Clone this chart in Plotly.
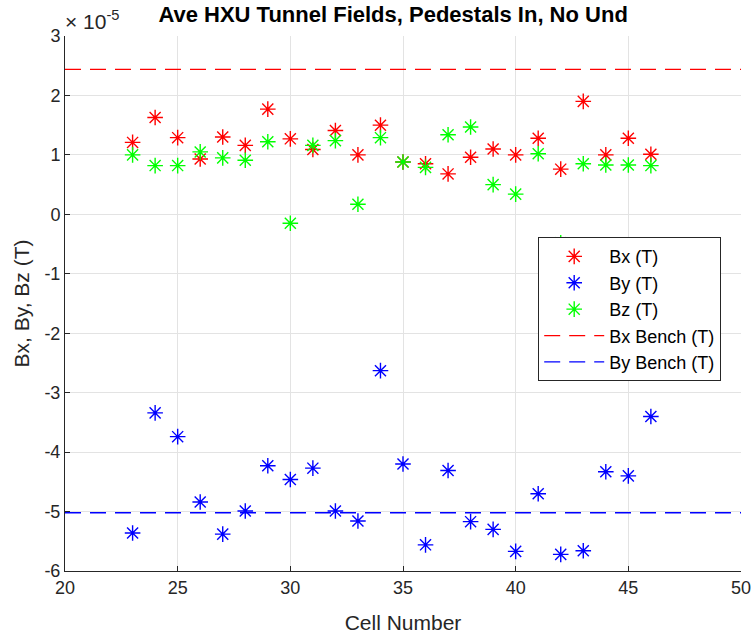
import plotly.graph_objects as go

cells = list(range(23, 47))
bx = [1.21, 1.63, 1.29, 0.93, 1.30, 1.16, 1.77, 1.27, 1.09, 1.41, 1.00, 1.50,
      0.88, 0.85, 0.68, 0.96, 1.10, 1.00, 1.28, 0.76, 1.90, 1.00, 1.28, 1.01]
by = [-5.36, -3.34, -3.74, -4.84, -5.38, -4.99, -4.23, -4.46, -4.27, -4.99, -5.16, -2.63,
      -4.20, -5.56, -4.31, -5.17, -5.30, -5.67, -4.70, -5.72, -5.66, -4.33, -4.40, -3.40]
bz = [1.00, 0.82, 0.82, 1.05, 0.95, 0.91, 1.22, -0.15, 1.16, 1.24, 0.17, 1.29,
      0.88, 0.79, 1.34, 1.47, 0.50, 0.34, 1.02, -0.48, 0.85, 0.83, 0.83, 0.82]
bench_x_range = [20, 50]
bx_bench = 2.44
by_bench = -5.02
x_ticks = [20, 25, 30, 35, 40, 45, 50]
y_ticks = [3, 2, 1, 0, -1, -2, -3, -4, -5, -6]
y_tick_text = ["3", "2", "1", "0", "-1", "-2", "-3", "-4", "-5", "-6"]

FONT = "Liberation Sans"
AX = "#262626"

fig = go.Figure()
for name, vals, col in [("Bx (T)", bx, "#ff0000"), ("By (T)", by, "#0000ff"), ("Bz (T)", bz, "#00ff00")]:
    fig.add_trace(go.Scatter(
        x=cells, y=vals, mode="markers", name=name,
        marker=dict(symbol="asterisk-open", size=13, color=col,
                    line=dict(color=col, width=1.4)),
    ))
for name, val, col in [("Bx Bench (T)", bx_bench, "#ff0000"), ("By Bench (T)", by_bench, "#0000ff")]:
    fig.add_trace(go.Scatter(
        x=bench_x_range, y=[val] * len(bench_x_range), mode="lines", name=name,
        line=dict(color=col, width=1.3, dash="16px,9px"),
    ))

fig.update_layout(
    width=756, height=640,
    margin=dict(l=65, r=15, t=36, b=69),
    paper_bgcolor="white", plot_bgcolor="white",
    font=dict(family=FONT, size=18, color=AX),
    title=dict(text="<b>Ave HXU Tunnel Fields, Pedestals In, No Und</b>",
               x=0.52, xanchor="center", y=0.977, yanchor="middle",
               font=dict(family=FONT, size=22, color="black")),
    showlegend=True,
    legend=dict(x=0.70, y=0.624, xanchor="left", yanchor="top",
                bgcolor="white", bordercolor=AX, borderwidth=1, itemwidth=60,
                font=dict(family=FONT, size=18, color="black")),
    xaxis=dict(range=[20, 50], tickvals=x_ticks, showgrid=True, gridcolor="#e3e3e3",
               showline=True, linecolor=AX, linewidth=1, ticks="inside", ticklen=5,
               tickcolor=AX, zeroline=False, mirror=False, automargin=False,
               title=dict(text="Cell Number", font=dict(size=21, color=AX), standoff=18),
               tickfont=dict(size=18, color=AX)),
    yaxis=dict(range=[-6, 3], tickvals=y_ticks, ticktext=y_tick_text, showgrid=True,
               gridcolor="#e3e3e3", automargin=False,
               showline=True, linecolor=AX, linewidth=1, ticks="inside", ticklen=5,
               tickcolor=AX, zeroline=False, mirror=False,
               title=dict(text="Bx, By, Bz (T)", font=dict(size=21, color=AX), standoff=9),
               tickfont=dict(size=18, color=AX)),
)
fig.add_annotation(xref="paper", yref="paper", x=0.0, y=1.0, xanchor="left", yanchor="bottom",
                   text="\u00d7 10<sup>-5</sup>", showarrow=False,
                   font=dict(family=FONT, size=21, color=AX), xshift=-2, yshift=1)
fig.write_html("out.html")
